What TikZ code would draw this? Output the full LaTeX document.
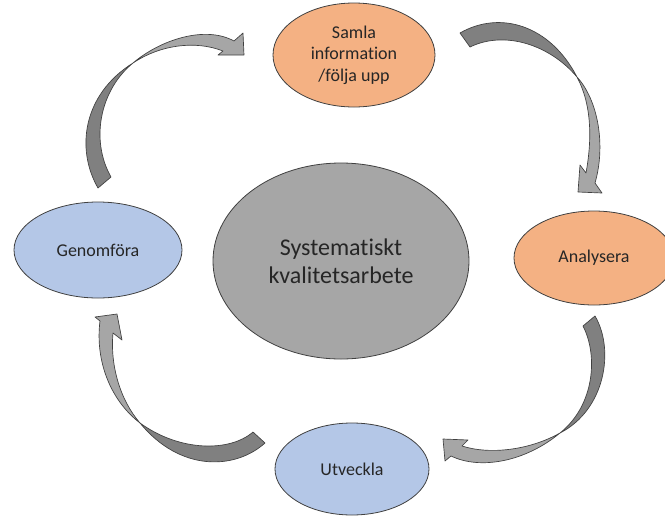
\documentclass[tikz,border=0pt]{standalone}
\usepackage{fontspec}
\setmainfont[RawFeature={-liga}]{Carlito}
\usepackage{tikz}
\usetikzlibrary{shapes.geometric}
\definecolor{orangefill}{RGB}{244,177,131}
\definecolor{bluefill}{RGB}{180,199,231}
\definecolor{darkband}{RGB}{128,128,128}
\definecolor{lightband}{RGB}{166,166,166}
\definecolor{edgegray}{RGB}{64,64,64}
\tikzset{
  phase/.style={ellipse, draw=edgegray, line width=0.6pt, inner sep=0pt, align=center,
    font=\fontsize{13.5}{16}\selectfont, text=black!85},
  backband/.style={fill=darkband, draw=edgegray, line width=0.5pt, line join=round},
  frontband/.style={fill=lightband, draw=edgegray, line width=0.5pt, line join=round}
}

\begin{document}
\begin{tikzpicture}[x=0.75pt,y=-0.75pt]
              \useasboundingbox (0,0) rectangle (665,515);
              \node (mitt) at (341,261) [phase, fill=lightband, minimum width=192pt, minimum height=147pt, font=\fontsize{18}{21}\selectfont] {Systematiskt\\kvalitetsarbete};
              \node (samla) at (354,55) [phase, fill=orangefill, minimum width=121.5pt, minimum height=78pt] {Samla\\information\\/följa upp};
              \node (analys) at (594,258) [phase, fill=orangefill, minimum width=120pt, minimum height=70.5pt] {Analysera};
              \node (utveckla) at (352,469) [phase, fill=bluefill, minimum width=115.5pt, minimum height=69pt] {Utveckla};
              \node (genomfora) at (98,250) [phase, fill=bluefill, minimum width=126pt, minimum height=72pt] {Genomföra};
              \draw[backband] (98,188) .. controls (76,150) and (82,95) .. (133,63) .. controls (100,90) and (90,140) .. (111,177) -- cycle;
              \draw[frontband] (133,63) .. controls (160,40) and (205,25) .. (234,41) -- (243,33) -- (244,55) -- (218,55) -- (223,51) .. controls (195,40) and (160,45) .. (133,63) -- cycle;
              \draw[backband] (460,33) .. controls (500,10) and (550,25) .. (577,77) .. controls (550,45) and (505,30) .. (470,47) -- cycle;
              \draw[frontband] (577,77) .. controls (598,100) and (606,145) .. (595,183) -- (602,193) -- (578,192) -- (580,165) -- (586,173) .. controls (592,140) and (592,105) .. (577,77) -- cycle;
              \draw[backband] (595,316) .. controls (615,350) and (605,410) .. (560,433) .. controls (595,405) and (598,355) .. (583,326) -- cycle;
              \draw[frontband] (560,433) .. controls (530,450) and (490,455) .. (462,446) -- (468,440) -- (443,439) -- (445,461) -- (451,456) .. controls (480,470) and (525,462) .. (560,433) -- cycle;
              \draw[backband] (265,443) .. controls (235,470) and (180,472) .. (140,423) .. controls (180,452) and (230,452) .. (253,432) -- cycle;
              \draw[frontband] (140,423) .. controls (110,400) and (95,360) .. (100,321) -- (95,317) -- (117,314) -- (122,340) -- (113,333) .. controls (110,365) and (120,400) .. (140,423) -- cycle;
            \end{tikzpicture}
\end{document}
